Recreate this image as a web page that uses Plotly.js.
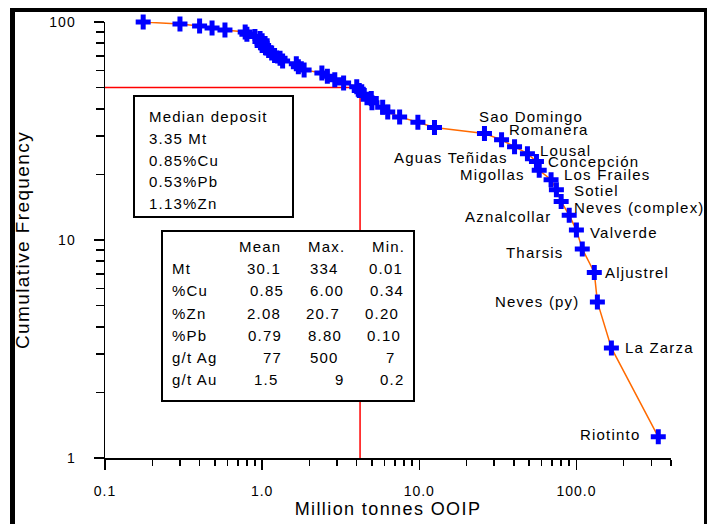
<!DOCTYPE html>
<html><head><meta charset="utf-8">
<script src="https://cdn.plot.ly/plotly-3.0.1.min.js"></script>
<style>
html,body{margin:0;padding:0;background:#fff;}
#chart{width:707px;height:524px;}
text{letter-spacing:1px;}
text.annotation-text{letter-spacing:1.2px;}
text.xtitle,text.ytitle{letter-spacing:1.4px;}
</style></head><body><div id="chart"></div>
<script>
// ---- data ----
const tonnage = [0.175,0.30,0.40,0.48,0.58,0.78,0.80,0.90,0.97,1.0,1.0,1.0,1.05,1.1,1.15,1.2,1.3,1.35,
  1.65,1.7,1.85,2.4,2.6,2.9,3.3,4.0,4.15,4.4,4.95,5.0,5.85,6.3,7.5,9.8,12.5,
  26,33.4,40.4,48.8,55.7,58,69,74.6,80,90,100,109,130,136,167,332];
const cumFreq = [100,97.8,95.8,93.8,91.9,89.9,87.9,85.9,83.9,82.0,80.0,78.0,76.1,74.1,72.1,70.2,68.2,66.2,
  64.3,62.3,60.3,58.4,56.4,54.4,52.5,50.5,48.5,46.6,44.6,42.6,40.6,38.7,36.7,34.7,32.8,
  30.8,28.8,26.8,24.9,22.9,20.9,18.9,17.0,15.0,13.0,11.1,9.1,7.1,5.2,3.2,1.25];
const depositNames = ['','','','','','','','','','','','','','','','','','',
  '','','','','','','','','','','','','','','','','',
  'Sao Domingo','Romanera','Aguas Teñidas','Lousal','Concepción','Migollas','Los Frailes','Sotiel',
  'Neves (complex)','Aznalcollar','Valverde','Tharsis','Aljustrel','Neves (py)','La Zarza','Riotinto'];
const medianX = [0.1, 4.2, 4.2];
const medianY = [50, 50, 1];
const medianLines = ['Median deposit','3.35 Mt','0.85%Cu','0.53%Pb','1.13%Zn'];
const statHeaders = ['Mean','Max.','Min.'];
const statRows = ['Mt','%Cu','%Zn','%Pb','g/t Ag','g/t Au'];
const statMean = ['30.1','0.85','2.08','0.79','77','1.5'];
const statMax = ['334','6.00','20.7','8.80','500','9'];
const statMin = ['0.01','0.34','0.20','0.10','7','0.2'];
const xTickVals = [0.1,1,10,100];
const xTickText = ['0.1','1.0','10.0','100.0'];
const yTickVals = [1,10,100];
const yTickText = ['1','10','100'];

// ---- layout / style ----
const FONT = 'Liberation Sans, Arial, Helvetica, sans-serif';
const L = 105, R = 671, T = 22, B = 458;
const PX = p => (p - L) / (R - L);
const PY = p => (B - p) / (B - T);

const labelStyle = {
  'Sao Domingo': ['left', -7, 17],
  'Romanera': ['left', 5, 10],
  'Aguas Teñidas': ['right', -5, -11],
  'Lousal': ['left', 11, 3],
  'Concepción': ['left', 10, 0],
  'Migollas': ['right', -12, -4],
  'Los Frailes': ['left', 11, 5],
  'Sotiel': ['left', 16, -1],
  'Neves (complex)': ['left', 11, -6],
  'Aznalcollar': ['right', -15, -1],
  'Valverde': ['left', 12, -2],
  'Tharsis': ['right', -16, -4],
  'Aljustrel': ['left', 9, 0],
  'Neves (py)': ['right', -15, 0],
  'La Zarza': ['left', 12, 0],
  'Riotinto': ['right', -16, 2]
};

const annotations = [];
depositNames.forEach((n, i) => {
  if (!n) return;
  const s = labelStyle[n];
  annotations.push({x: Math.log10(tonnage[i]), y: Math.log10(cumFreq[i]), xref:'x', yref:'y',
    text: n, showarrow:false, xanchor: s[0], yanchor:'middle', xshift: s[1], yshift: s[2],
    font:{family:FONT, size:15, color:'#000'}});
});
function paperText(t, px, py, anchor) {
  annotations.push({x: PX(px), y: PY(py), xref:'paper', yref:'paper', text:t, showarrow:false,
    xanchor: anchor, yanchor:'middle', font:{family:FONT, size:15, color:'#000'}});
}
const medY = [116, 138, 160, 181.5, 203];
medianLines.forEach((t, i) => paperText(t, 147, medY[i], 'left'));
const hdrRight = [283, 347, 407];
statHeaders.forEach((t, i) => paperText(t, hdrRight[i], 246, 'right'));
const rowY = [268, 290, 313, 335.5, 357.5, 379];
const meanRight = [283, 286, 283, 284, 284, 280];
const maxRight = [341, 346, 342, 344, 341, 347];
const minRight = [405, 406, 401, 403, 398, 406];
statRows.forEach((t, i) => {
  paperText(t, 170, rowY[i], 'left');
  paperText(statMean[i], meanRight[i], rowY[i], 'right');
  paperText(statMax[i], maxRight[i], rowY[i], 'right');
  paperText(statMin[i], minRight[i], rowY[i], 'right');
});

function rect(x0, y0, x1, y1, fill, lw) {
  return {type:'rect', xref:'paper', yref:'paper', x0:PX(x0), x1:PX(x1), y0:PY(y0), y1:PY(y1),
    fillcolor: fill, line:{color:'#000', width: lw}, layer:'above'};
}
const shapes = [
  rect(134, 96, 293, 217, '#ffffff', 2),
  rect(162, 231, 414, 401, '#ffffff', 2),
  rect(10, 8, 707, 12, '#000', 0),
  rect(10, 8, 15, 524, '#000', 0),
  rect(704, 8, 707, 524, '#000', 0)
];

const minorX = [0.2,0.3,0.4,0.5,0.6,0.7,0.8,0.9,2,3,4,5,6,7,8,9,20,30,40,50,60,70,80,90,200,300,400];
const minorY = [2,3,4,5,6,7,8,9,20,30,40,50,60,70,80,90];

const traces = [
  {x: medianX, y: medianY, type:'scatter', mode:'lines', line:{color:'#ff0000', width:1.5}, hoverinfo:'skip'},
  {x: tonnage, y: cumFreq, type:'scatter', mode:'lines+markers', cliponaxis:false,
   line:{color:'#ff6a00', width:1.5},
   marker:{symbol:'cross', size:12.5, color:'#0000ff', line:{width:0}}}
];

const layout = {
  width:707, height:524, showlegend:false,
  paper_bgcolor:'#fff', plot_bgcolor:'rgba(0,0,0,0)',
  margin:{l:L, r:707-R, t:T, b:524-B, pad:0},
  font:{family:FONT, color:'#000'},
  xaxis:{type:'log', range:[-1, Math.log10(400)], tickmode:'array', tickvals:xTickVals, ticktext:xTickText,
    ticks:'outside', ticklen:10, tickwidth:1.5, tickcolor:'#000', showline:true, linewidth:1.5, linecolor:'#000',
    showgrid:false, zeroline:false, automargin:false, tickfont:{family:FONT, size:14, color:'#000'},
    ticklabelstandoff:10,
    minor:{tickmode:'array', tickvals:minorX, ticks:'outside', ticklen:6, tickwidth:1.5, tickcolor:'#000', showgrid:false},
    title:{text:'Million tonnes OOIP', font:{family:FONT, size:18, color:'#000'}, standoff:4}},
  yaxis:{type:'log', range:[0, 2], tickmode:'array', tickvals:yTickVals, ticktext:yTickText,
    ticks:'outside', ticklen:10, tickwidth:1.5, tickcolor:'#000', showline:true, linewidth:1.5, linecolor:'#000',
    showgrid:false, zeroline:false, automargin:false, tickfont:{family:FONT, size:14, color:'#000'},
    ticklabelstandoff:15,
    minor:{tickmode:'array', tickvals:minorY, ticks:'outside', ticklen:8, tickwidth:1.5, tickcolor:'#000', showgrid:false},
    title:{text:'Cumulative Frequency', font:{family:FONT, size:19, color:'#000'}, standoff:14}},
  annotations: annotations,
  shapes: shapes
};
Plotly.newPlot('chart', traces, layout, {displayModeBar:false, staticPlot:true});
</script></body></html>
